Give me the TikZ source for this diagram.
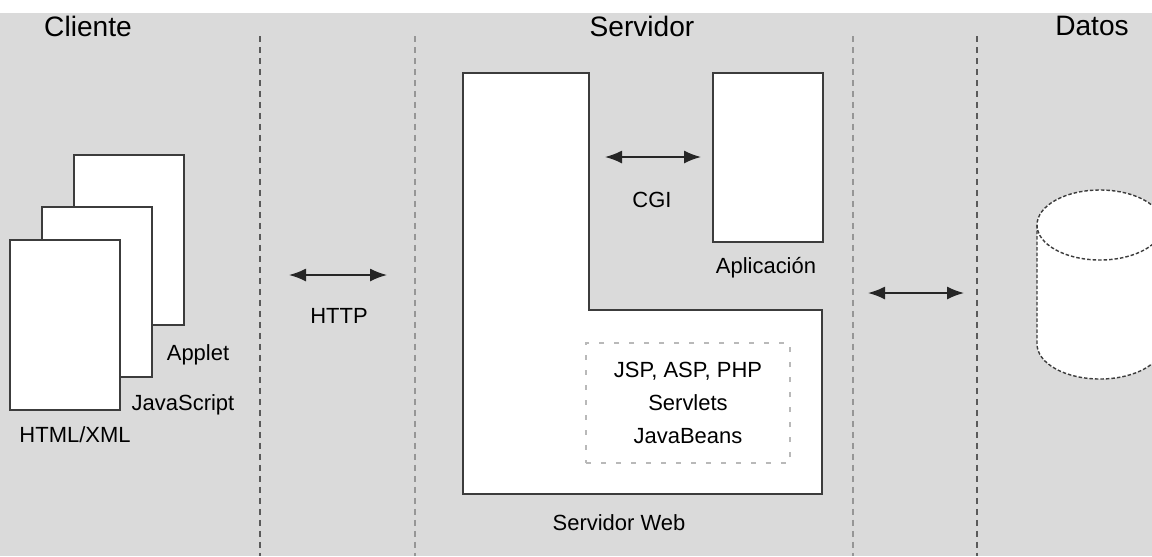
\documentclass[tikz,border=0pt]{standalone}
\usepackage{fontspec}
\setmainfont{Liberation Sans}
\usetikzlibrary{arrows.meta,positioning}

\definecolor{bg gray}{RGB}{218,218,218}
\definecolor{line gray}{RGB}{60,60,60}

\begin{document}
\begin{tikzpicture}[x=0.02cm,y=-0.02cm,>={Latex[length=0.34cm,width=0.26cm]},
  title node/.style={font=\fontsize{16}{19}\selectfont},
  text node/.style={font=\fontsize{12.5}{18.7}\selectfont,anchor=base},
  page node/.style={draw=line gray,fill=white,line width=0.7pt,minimum width=2.2cm,minimum height=3.4cm,inner sep=0pt},
  box node/.style={draw=line gray,fill=white,line width=0.8pt,inner sep=0pt},
  link/.style={<->,line width=0.9pt,draw=black!85},
  divider/.style={line width=0.6pt,dash pattern=on 0.12cm off 0.1cm},
  drum/.style={draw=line gray,line width=0.8pt,dash pattern=on 0.07cm off 0.04cm}]

  \clip (0,0) rectangle (1152,556);
  \fill[bg gray] (0,13) rectangle (1152,556);

  \foreach \x/\g in {260/90,415/150,853/150,977/90}
    \draw[divider,draw={rgb,255:red,\g;green,\g;blue,\g}] (\x,36) -- (\x,556);

  \node[title node] (cliente)  at (88,26)   {Cliente};
  \node[title node] (servidor) at (642,26)  {Servidor};
  \node[title node] (datos)    at (1092,26) {Datos};

  % client documents
  \node[page node] (applet)     at (129,240) {};
  \node[page node] (javascript) at (97,292)  {};
  \node[page node] (html)       at (65,325)  {};
  \node[text node] (applet label)     at (198,360) {Applet};
  \node[text node] (javascript label) at (183,410) {JavaScript};
  \node[text node] (html label)       at (75,442)  {HTML/XML};

  \coordinate (http a) at (289,275);
  \coordinate (http b) at (387,275);
  \draw[link] (http a) -- (http b);
  \node[text node] (http) at (339,323) {HTTP};

  % web server
  \draw[draw=line gray,fill=white,line width=0.8pt]
    (463,73) -- (589,73) -- (589,310) -- (822,310) -- (822,494) -- (463,494) -- cycle;
  \node[text node] (web label) at (619,530) {Servidor Web};
  \node[draw=gray!55,line width=0.7pt,dash pattern=on 0.1cm off 0.2cm,
        minimum width=4.08cm,minimum height=2.4cm,align=center,
        font=\fontsize{12.5}{18.7}\selectfont] (modulos) at (688,403)
        {JSP, ASP, PHP\\Servlets\\JavaBeans};

  \node[box node,minimum width=2.2cm,minimum height=3.38cm] (aplicacion) at (768,157.5) {};
  \node[text node] (aplicacion label) at (766,273) {Aplicación};

  \coordinate (cgi a) at (605,157);
  \coordinate (cgi b) at (701,157);
  \draw[link] (cgi a) -- (cgi b);
  \node[text node] (cgi) at (652,207) {CGI};

  \coordinate (db a) at (868,293);
  \coordinate (db b) at (964,293);
  \draw[link] (db a) -- (db b);

  % database
  \fill[white] (1037,225) rectangle (1163,344);
  \fill[white] (1100,344) ellipse[x radius=63,y radius=35];
  \fill[white] (1100,225) ellipse[x radius=63,y radius=35];
  \draw[drum] (1100,225) ellipse[x radius=63,y radius=35];
  \draw[drum] (1037,225) -- (1037,344)
    arc[start angle=180,end angle=0,x radius=63,y radius=35] -- (1163,225);
\end{tikzpicture}
\end{document}
